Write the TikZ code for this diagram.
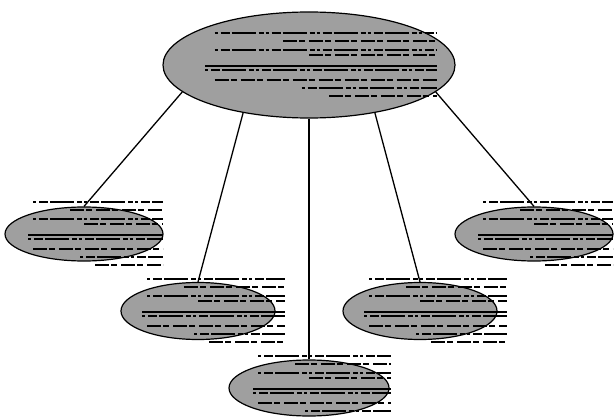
\documentclass[tikz,border=0pt]{standalone}
\usetikzlibrary{shapes.geometric}
\begin{document}
\begin{tikzpicture}[x=1pt,y=-1pt,
  ell/.style={ellipse, draw=black, line width=1.2pt, fill=gray!75!white, inner sep=0pt},
  conn/.style={draw=black, line width=1.3pt},
  garbA/.style={line width=1.2pt, black, dash pattern=on 3pt off 3pt on 9pt off 2pt on 24pt off 3pt on 5pt off 2pt},
  garbB/.style={line width=1.2pt, black, dash pattern=on 14pt off 2pt on 6pt off 4pt},
  garbS/.style={line width=1.2pt, black}]
\useasboundingbox (0,0) rectangle (615,417);
\node[ell, minimum width=292pt, minimum height=106pt] (top) at (309,65) {};
\node[ell, minimum width=158pt, minimum height=54pt] (c1) at (84,234) {};
\node[ell, minimum width=154pt, minimum height=57pt] (c2) at (198,311) {};
\node[ell, minimum width=160pt, minimum height=56pt] (c3) at (309,388) {};
\node[ell, minimum width=154pt, minimum height=57pt] (c4) at (420,311) {};
\node[ell, minimum width=158pt, minimum height=54pt] (c5) at (534,234) {};
\draw[conn] (top.192) -- (c1.north);
\draw[conn] (top.216) -- (c2.north);
\draw[conn] (top.south) -- (c3.north);
\draw[conn] (top.324) -- (c4.north);
\draw[conn] (top.348) -- (c5.north);
\newcommand\txtmarks[3]{%
  \foreach \dy/\lx/\st in {-32/-51/garbA, -24/-14/garbB, -15/-51/garbA, -10/0/garbB, 1/-56/garbS, 5/-56/garbA, 15/-51/garbB, 23/-4/garbA, 31/11/garbB}
    \draw[\st] ([shift={(\lx*#2,\dy)}]#1.center) -- ([shift={(#3,\dy)}]#1.center);}
\txtmarks{top}{1.85}{128}
\txtmarks{c1}{1}{79}
\txtmarks{c2}{1}{87}
\txtmarks{c3}{1}{82}
\txtmarks{c4}{1}{87}
\txtmarks{c5}{1}{79}
\end{tikzpicture}
\end{document}
